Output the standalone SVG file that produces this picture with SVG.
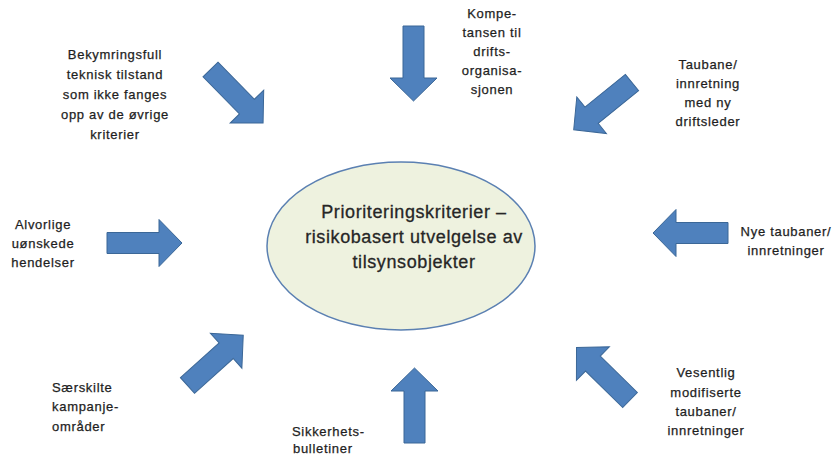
<svg xmlns="http://www.w3.org/2000/svg" xmlns:xlink="http://www.w3.org/1999/xlink" width="833" height="461" viewBox="0 0 833 461">
<style>
.lbl{font-family:"Liberation Sans",Arial,sans-serif;font-size:13px;letter-spacing:0.7px;fill:#1e1e1e;stroke:#1e1e1e;stroke-width:0.25;text-anchor:middle}
.lft{text-anchor:start}
.ctr{font-family:"Liberation Sans",Arial,sans-serif;font-size:18px;letter-spacing:0.6px;fill:#262626;stroke:#262626;stroke-width:0.3;text-anchor:middle}
.arr{fill:#4f81bd;stroke:#3b6797;stroke-width:1}
</style>
<defs>
<polygon id="arr" points="0,-10.5 52,-10.5 52,-23.5 75,0 52,23.5 52,10.5 0,10.5"/>
</defs>
<rect width="833" height="461" fill="#ffffff"/>
<g id="center">
<ellipse cx="401" cy="246" rx="134" ry="84" fill="#eef2df" stroke="#5b80b2" stroke-width="1.5"/>
<text class="ctr" x="414" y="218">Prioriteringskriterier –</text>
<text class="ctr" x="414" y="243">risikobasert utvelgelse av</text>
<text class="ctr" x="414" y="268">tilsynsobjekter</text>
</g>
<g id="connectors">
<use href="#arr" class="arr" transform="translate(210.5,69.5) rotate(45.5)"/>
<use href="#arr" class="arr" transform="translate(413.5,26) rotate(90)"/>
<use href="#arr" class="arr" transform="translate(632,82.5) rotate(141)"/>
<use href="#arr" class="arr" transform="translate(107,243) rotate(0)"/>
<use href="#arr" class="arr" transform="translate(728,233) rotate(180)"/>
<use href="#arr" class="arr" transform="translate(187.5,385.5) rotate(-42)"/>
<use href="#arr" class="arr" transform="translate(414.5,443) rotate(-90)"/>
<use href="#arr" class="arr" transform="translate(630,400) rotate(-135.5)"/>
</g>
<g id="n1">
<text class="lbl" x="115" y="59">Bekymringsfull</text>
<text class="lbl" x="115" y="79">teknisk tilstand</text>
<text class="lbl" x="115" y="99">som  ikke fanges</text>
<text class="lbl" x="115" y="119">opp av de øvrige</text>
<text class="lbl" x="115" y="139">kriterier</text>
</g>
<g id="n2">
<text class="lbl" x="492" y="18">Kompe-</text>
<text class="lbl" x="492" y="37">tansen til</text>
<text class="lbl" x="492" y="56">drifts-</text>
<text class="lbl" x="492" y="75">organisa-</text>
<text class="lbl" x="492" y="94">sjonen</text>
</g>
<g id="n3">
<text class="lbl" x="708" y="69">Taubane/</text>
<text class="lbl" x="708" y="88">innretning</text>
<text class="lbl" x="708" y="107">med ny</text>
<text class="lbl" x="708" y="126">driftsleder</text>
</g>
<g id="n4">
<text class="lbl" x="43" y="229">Alvorlige</text>
<text class="lbl" x="43" y="248">uønskede</text>
<text class="lbl" x="43" y="267">hendelser</text>
</g>
<g id="n5">
<text class="lbl" x="786" y="236">Nye taubaner/</text>
<text class="lbl" x="786" y="255">innretninger</text>
</g>
<g id="n6">
<text class="lbl lft" x="52" y="392">Særskilte</text>
<text class="lbl lft" x="52" y="411">kampanje-</text>
<text class="lbl lft" x="52" y="431">områder</text>
</g>
<g id="n7">
<text class="lbl lft" x="292" y="436">Sikkerhets-</text>
<text class="lbl lft" x="293" y="453">bulletiner</text>
</g>
<g id="n8">
<text class="lbl" x="706" y="377">Vesentlig</text>
<text class="lbl" x="706" y="397">modifiserte</text>
<text class="lbl" x="706" y="416">taubaner/</text>
<text class="lbl" x="706" y="435">innretninger</text>
</g>
</svg>
